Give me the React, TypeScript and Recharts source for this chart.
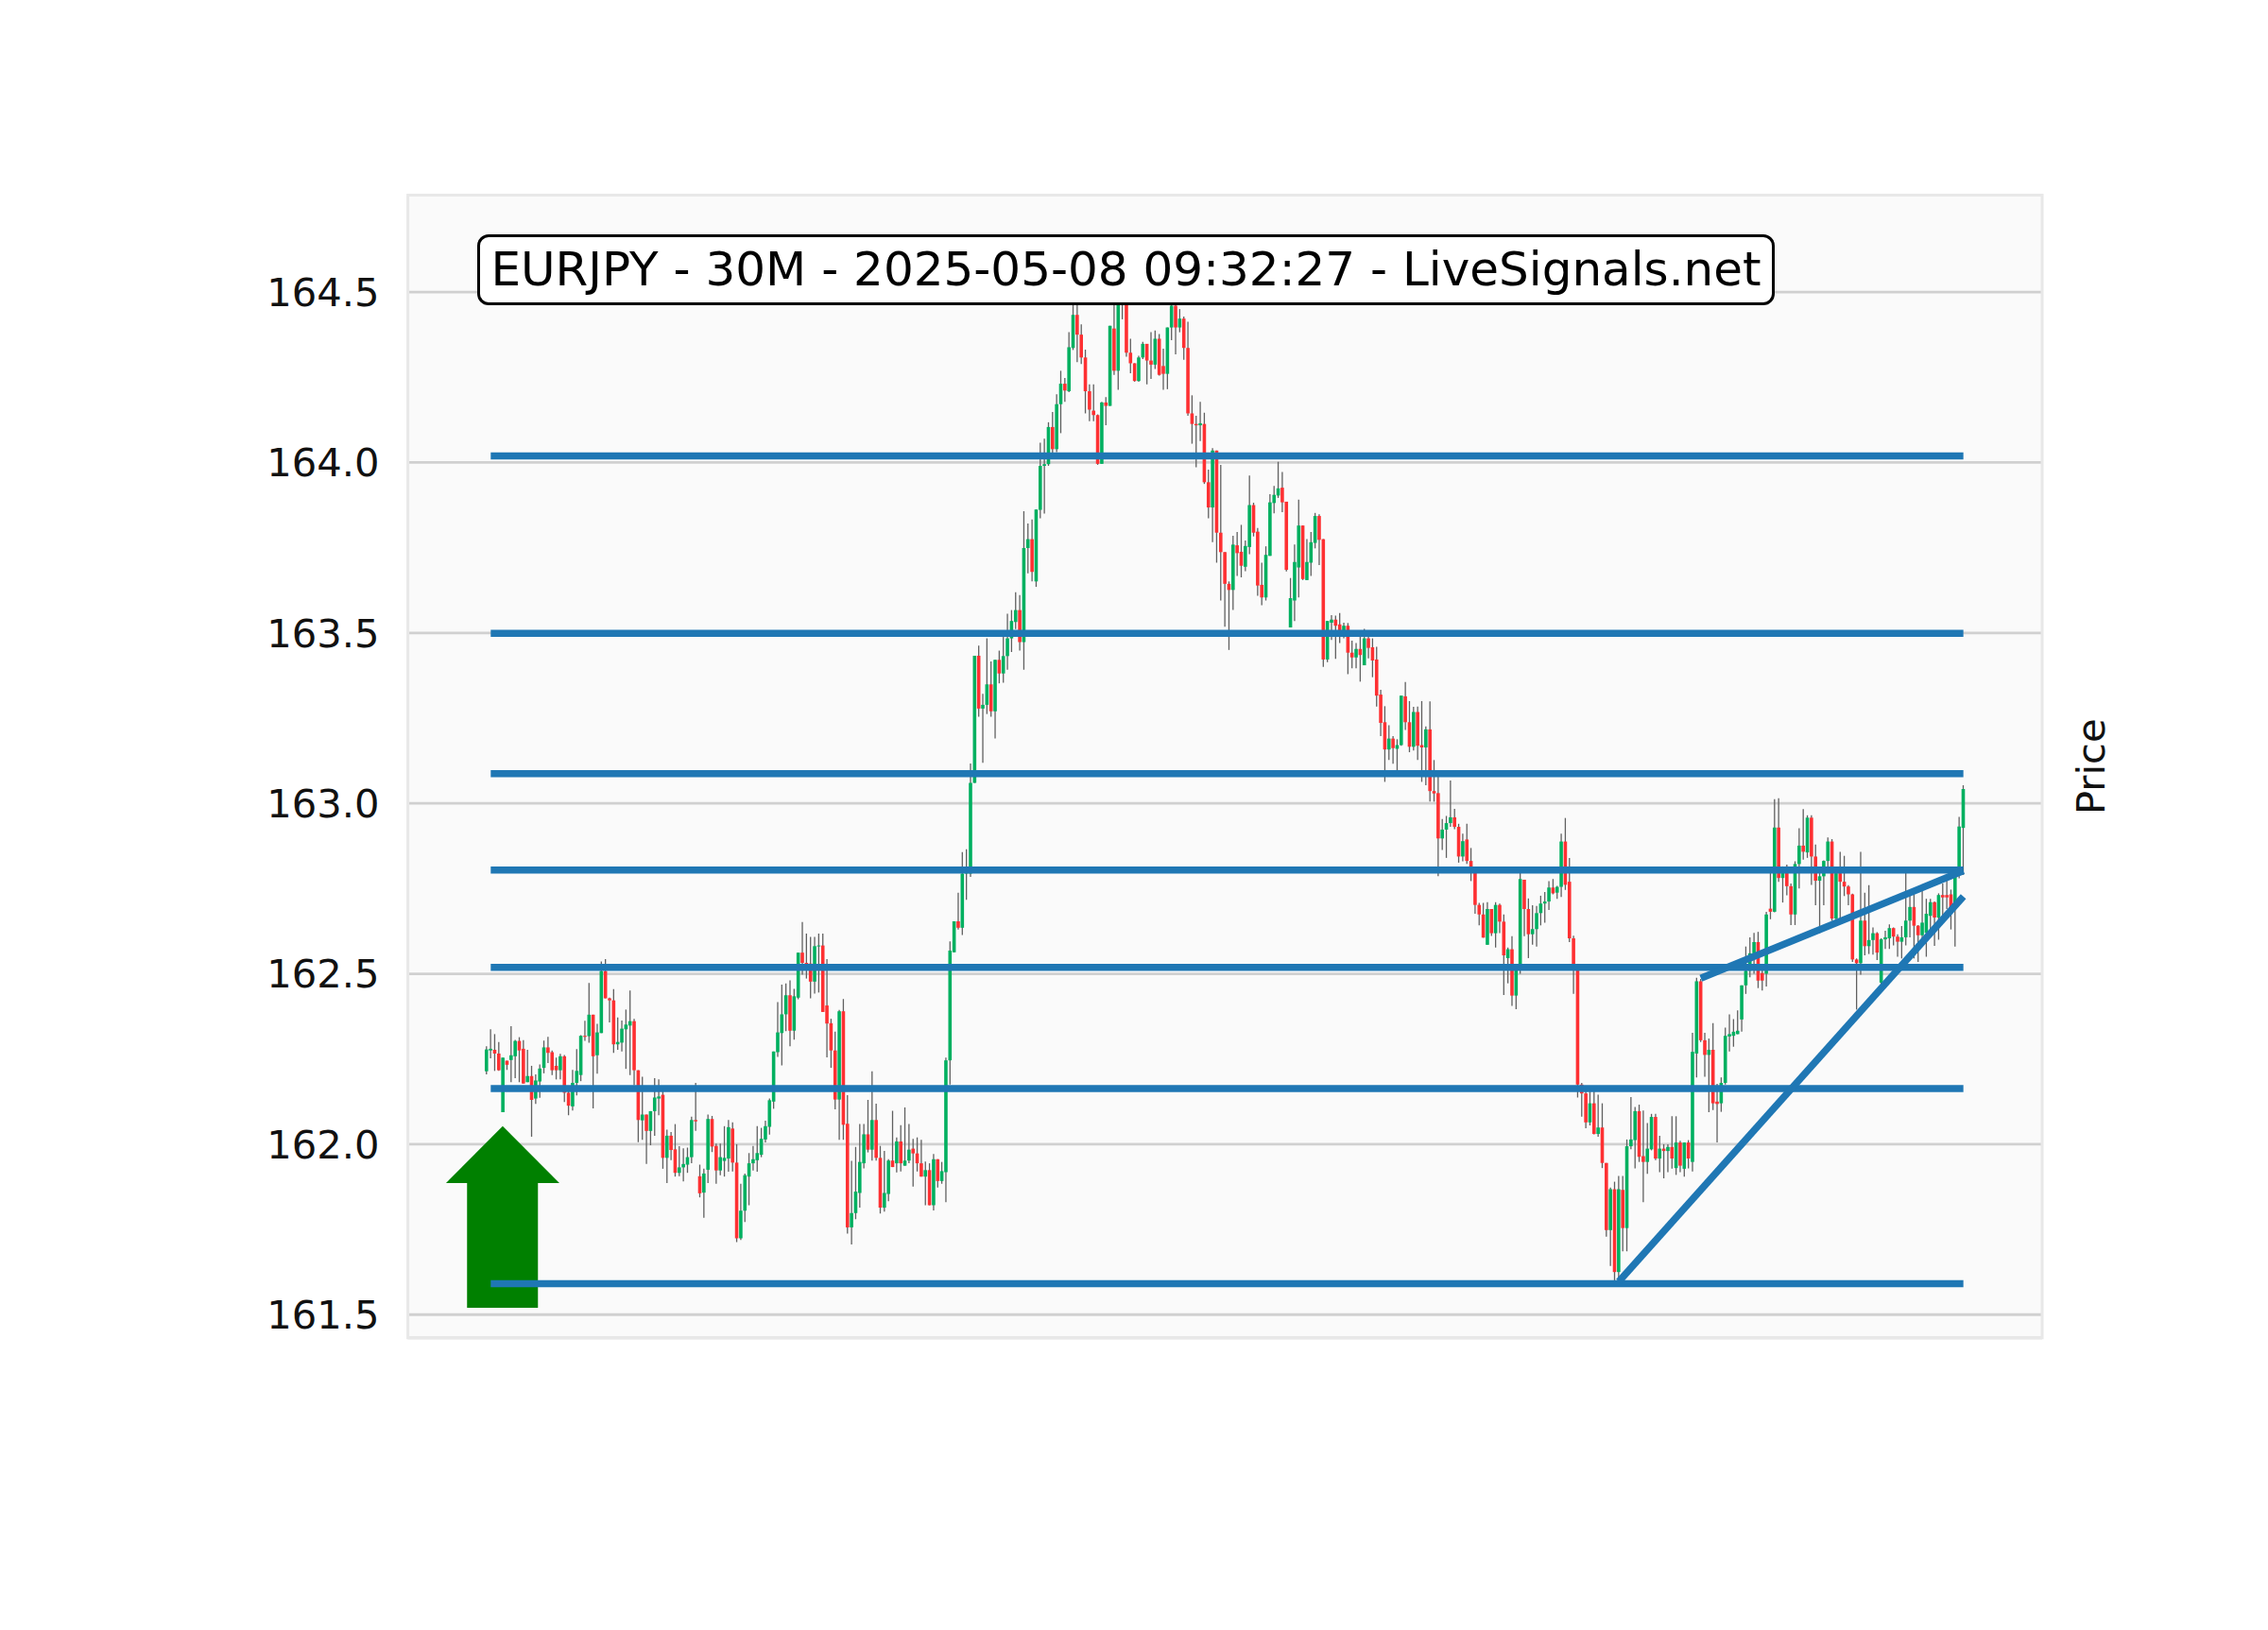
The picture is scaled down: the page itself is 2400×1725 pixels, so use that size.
import {
  ComposedChart,
  Bar,
  XAxis,
  YAxis,
  CartesianGrid,
  ReferenceLine,
  ReferenceArea,
} from "recharts";

type Ohlc = [number, number, number, number]; // open, high, low, close

const sessionOpen: Ohlc[] = [
  [162.214, 162.287, 162.205, 162.278], [162.275, 162.337, 162.252, 162.28], [162.277, 162.323, 162.215, 162.266],
  [162.266, 162.3, 162.215, 162.217], [162.094, 162.254, 162.094, 162.254], [162.245, 162.245, 162.218, 162.233],
  [162.247, 162.346, 162.182, 162.261], [162.258, 162.306, 162.194, 162.303], [162.303, 162.314, 162.182, 162.275],
  [162.28, 162.305, 162.178, 162.178], [162.182, 162.277, 162.182, 162.2], [162.2, 162.23, 162.022, 162.13],
  [162.134, 162.205, 162.118, 162.187], [162.184, 162.234, 162.136, 162.222], [162.224, 162.304, 162.208, 162.284],
  [162.284, 162.315, 162.238, 162.268], [162.27, 162.275, 162.203, 162.217], [162.23, 162.254, 162.19, 162.217],
  [162.217, 162.265, 162.19, 162.258], [162.258, 162.262, 162.124, 162.151], [162.151, 162.164, 162.085, 162.113],
  [162.111, 162.218, 162.099, 162.18], [162.18, 162.279, 162.143, 162.215], [162.203, 162.32, 162.185, 162.318],
  [162.318, 162.362, 162.303, 162.315], [162.317, 162.473, 162.298, 162.38], [162.38, 162.38, 162.105, 162.258],
  [162.261, 162.353, 162.207, 162.328], [162.326, 162.536, 162.326, 162.508], [162.508, 162.543, 162.428, 162.428],
  [162.428, 162.43, 162.357, 162.422], [162.422, 162.455, 162.268, 162.293], [162.293, 162.372, 162.277, 162.3],
  [162.298, 162.363, 162.272, 162.339], [162.337, 162.395, 162.221, 162.351], [162.348, 162.451, 162.203, 162.361],
  [162.361, 162.368, 162.173, 162.217], [162.217, 162.217, 162.006, 162.071], [162.07, 162.198, 162.013, 162.087],
  [162.087, 162.087, 161.942, 162.039], [162.039, 162.097, 161.997, 162.097], [162.097, 162.194, 162.025, 162.137],
  [162.134, 162.19, 162.085, 162.14], [162.145, 162.155, 161.928, 161.96], [161.96, 162.043, 161.886, 162.025],
  [162.025, 162.036, 161.953, 161.983], [161.985, 162.059, 161.905, 161.916], [161.916, 161.994, 161.906, 161.932],
  [161.932, 161.988, 161.891, 161.942], [161.94, 161.99, 161.916, 161.962], [161.962, 162.081, 161.944, 162.071],
  [162.071, 162.18, 162.039, 162.067],
];

const asiaDip: Ohlc[] = [
  [161.906, 161.94, 161.844, 161.856], [161.858, 161.928, 161.784, 161.914], [161.925, 162.087, 161.886, 162.074],
  [162.074, 162.083, 161.977, 161.993], [161.995, 162.002, 161.884, 161.923], [161.923, 162.002, 161.909, 161.962],
  [161.951, 162.053, 161.905, 161.96], [161.958, 162.071, 161.919, 162.05], [162.046, 162.064, 161.92, 161.946],
  [161.946, 162.0, 161.713, 161.724], [161.724, 161.884, 161.719, 161.805], [161.805, 161.914, 161.772, 161.909],
  [161.905, 161.974, 161.821, 161.944], [161.944, 161.995, 161.923, 161.956], [161.953, 162.053, 161.919, 161.974],
  [161.969, 162.048, 161.962, 162.016], [162.014, 162.069, 162.005, 162.053], [162.051, 162.134, 162.028, 162.129],
  [162.125, 162.272, 162.104, 162.272], [162.27, 162.417, 162.256, 162.328], [162.326, 162.468, 162.231, 162.381],
  [162.381, 162.472, 162.332, 162.437], [162.437, 162.481, 162.287, 162.333], [162.333, 162.456, 162.307, 162.434],
  [162.43, 162.562, 162.425, 162.562], [162.562, 162.652, 162.497, 162.532], [162.532, 162.618, 162.486, 162.53],
  [162.53, 162.608, 162.428, 162.477], [162.477, 162.608, 162.442, 162.581], [162.581, 162.618, 162.445, 162.583],
  [162.583, 162.618, 162.388, 162.388], [162.407, 162.543, 162.255, 162.354], [162.355, 162.368, 162.224, 162.275],
  [162.275, 162.33, 162.102, 162.131], [162.131, 162.394, 162.013, 162.39], [162.39, 162.426, 162.013, 162.057],
  [162.06, 162.144, 161.738, 161.756], [161.756, 161.951, 161.706, 161.798], [161.798, 161.992, 161.78, 161.861],
  [161.857, 162.059, 161.814, 161.948], [161.944, 162.059, 161.929, 162.029], [162.029, 162.13, 161.976, 161.984],
  [161.984, 162.214, 161.952, 162.071], [162.071, 162.119, 161.952, 161.96], [161.96, 161.995, 161.797, 161.814],
  [161.814, 161.98, 161.802, 161.857], [161.854, 161.956, 161.833, 161.952], [161.952, 162.098, 161.933, 161.933],
  [161.944, 162.02, 161.917, 162.008], [162.008, 162.056, 161.92, 161.944], [161.937, 162.108, 161.937, 161.952],
  [161.952, 162.059, 161.944, 161.984], [161.987, 162.016, 161.876, 161.973], [161.973, 162.02, 161.92, 161.944],
  [161.944, 162.013, 161.905, 161.905], [161.905, 161.949, 161.821, 161.924], [161.924, 161.944, 161.821, 161.821],
  [161.821, 161.971, 161.806, 161.956], [161.956, 161.956, 161.873, 161.892], [161.892, 161.948, 161.884, 161.921],
];

const breakout: Ohlc[] = [
  [161.918, 162.254, 161.83, 162.246], [162.246, 162.595, 162.175, 162.568], [162.563, 162.654, 162.563, 162.654],
  [162.654, 162.738, 162.63, 162.635], [162.635, 162.857, 162.614, 162.794], [162.794, 162.865, 162.717, 162.8],
  [162.794, 163.117, 162.784, 163.06], [163.06, 163.433, 163.06, 163.433], [163.433, 163.463, 163.254, 163.278],
  [163.278, 163.321, 163.119, 163.289], [163.289, 163.484, 163.262, 163.349], [163.349, 163.416, 163.254, 163.27],
  [163.27, 163.421, 163.19, 163.421], [163.421, 163.448, 163.352, 163.381], [163.381, 163.508, 163.354, 163.432],
  [163.432, 163.556, 163.392, 163.484], [163.484, 163.567, 163.444, 163.535], [163.532, 163.619, 163.511, 163.567],
  [163.567, 163.611, 163.448, 163.473], [163.473, 163.857, 163.392, 163.749], [163.749, 163.821, 163.675, 163.775],
  [163.775, 163.833, 163.651, 163.679], [163.651, 163.862, 163.635, 163.862], [163.861, 164.058, 163.836, 163.99],
  [163.99, 164.07, 163.85, 163.995], [163.995, 164.118, 163.99, 164.104], [164.104, 164.148, 164.025, 164.039],
  [164.039, 164.2, 164.03, 164.171], [164.171, 164.269, 164.086, 164.231], [164.231, 164.248, 164.178, 164.211],
  [164.209, 164.382, 164.206, 164.338], [164.336, 164.48, 164.33, 164.433], [164.433, 164.47, 164.294, 164.375],
  [164.375, 164.405, 164.289, 164.308], [164.308, 164.331, 164.144, 164.209], [164.209, 164.229, 164.121, 164.155],
  [164.152, 164.229, 164.121, 164.139], [164.139, 164.141, 163.993, 163.996], [163.996, 164.178, 163.996, 164.176],
  [164.176, 164.192, 164.109, 164.166], [164.166, 164.401, 164.166, 164.401],
];

const topRange: Ohlc[] = [
  [164.393, 164.5, 164.257, 164.269], [164.269, 164.52, 164.213, 164.47], [164.47, 164.55, 164.42, 164.5],
  [164.5, 164.56, 164.31, 164.322], [164.322, 164.363, 164.262, 164.291], [164.291, 164.291, 164.237, 164.239],
  [164.239, 164.313, 164.237, 164.308], [164.308, 164.354, 164.303, 164.348], [164.348, 164.348, 164.229, 164.299],
  [164.299, 164.382, 164.245, 164.287], [164.287, 164.387, 164.274, 164.363], [164.363, 164.377, 164.255, 164.257],
  [164.283, 164.334, 164.213, 164.26], [164.26, 164.396, 164.215, 164.396], [164.396, 164.52, 164.359, 164.46],
  [164.46, 164.53, 164.317, 164.396], [164.396, 164.45, 164.382, 164.422], [164.422, 164.428, 164.301, 164.336],
  [164.336, 164.413, 164.137, 164.144], [164.144, 164.197, 164.055, 164.113], [164.113, 164.137, 163.986, 164.109],
  [164.109, 164.178, 164.063, 164.115], [164.113, 164.146, 163.937, 163.942], [163.942, 163.979, 163.836, 163.868],
  [163.868, 164.042, 163.766, 164.035], [164.035, 164.035, 163.706, 163.794], [163.794, 163.993, 163.595, 163.737],
  [163.737, 163.737, 163.518, 163.644], [163.644, 163.651, 163.45, 163.626], [163.626, 163.785, 163.567, 163.759],
  [163.757, 163.796, 163.667, 163.734], [163.738, 163.817, 163.663, 163.697], [163.694, 163.771, 163.681, 163.755],
  [163.752, 163.962, 163.731, 163.875], [163.875, 163.882, 163.783, 163.794], [163.797, 163.808, 163.609, 163.639],
  [163.641, 163.706, 163.581, 163.604], [163.604, 163.754, 163.595, 163.729], [163.726, 163.907, 163.726, 163.883],
  [163.881, 163.931, 163.851, 163.905], [163.903, 164.002, 163.896, 163.924], [163.926, 163.972, 163.854, 163.883],
  [163.885, 163.885, 163.68, 163.685],
];

const slide: Ohlc[] = [
  [163.516, 163.661, 163.516, 163.602], [163.595, 163.759, 163.535, 163.708], [163.692, 163.891, 163.604, 163.815],
  [163.815, 163.815, 163.655, 163.658], [163.655, 163.775, 163.655, 163.708], [163.706, 163.796, 163.667, 163.766],
  [163.764, 163.852, 163.748, 163.843], [163.843, 163.848, 163.699, 163.773], [163.775, 163.775, 163.4, 163.422],
  [163.422, 163.535, 163.414, 163.535], [163.53, 163.552, 163.479, 163.539], [163.539, 163.551, 163.424, 163.521],
  [163.525, 163.558, 163.47, 163.507], [163.507, 163.53, 163.484, 163.521], [163.521, 163.529, 163.379, 163.442],
  [163.442, 163.477, 163.396, 163.428], [163.428, 163.47, 163.396, 163.453], [163.453, 163.489, 163.357, 163.435],
  [163.405, 163.512, 163.405, 163.484], [163.484, 163.493, 163.425, 163.456], [163.458, 163.484, 163.37, 163.419],
  [163.422, 163.459, 163.284, 163.316], [163.319, 163.333, 163.197, 163.236], [163.238, 163.285, 163.063, 163.158],
  [163.158, 163.229, 163.127, 163.19], [163.19, 163.197, 163.116, 163.162], [163.16, 163.188, 163.095, 163.171],
  [163.171, 163.316, 163.169, 163.316], [163.314, 163.356, 163.215, 163.238], [163.238, 163.3, 163.15, 163.166],
  [163.166, 163.283, 163.155, 163.268], [163.268, 163.284, 163.127, 163.169], [163.171, 163.3, 163.063, 163.164],
  [163.164, 163.226, 163.053, 163.217], [163.217, 163.299, 163.005, 163.036], [163.036, 163.127, 163.005, 163.029],
  [163.03, 163.084, 162.786, 162.897], [162.897, 162.954, 162.863, 162.923], [162.923, 162.963, 162.84, 162.942],
  [162.942, 163.067, 162.931, 162.959], [162.959, 162.984, 162.924, 162.931], [162.931, 162.94, 162.826, 162.844],
  [162.844, 162.911, 162.83, 162.889], [162.894, 162.94, 162.822, 162.831], [162.831, 162.869, 162.772, 162.804],
  [162.804, 162.81, 162.676, 162.702], [162.702, 162.708, 162.642, 162.674], [162.674, 162.708, 162.606, 162.606],
  [162.585, 162.71, 162.585, 162.69], [162.69, 162.69, 162.611, 162.619], [162.619, 162.71, 162.577, 162.702],
  [162.702, 162.706, 162.619, 162.653], [162.653, 162.674, 162.438, 162.554], [162.546, 162.577, 162.472, 162.572],
  [162.572, 162.61, 162.406, 162.436], [162.436, 162.526, 162.396, 162.526], [162.526, 162.795, 162.5, 162.778],
  [162.776, 162.776, 162.61, 162.69], [162.69, 162.721, 162.546, 162.616], [162.616, 162.701, 162.585, 162.631],
  [162.631, 162.699, 162.58, 162.678], [162.678, 162.729, 162.642, 162.706], [162.706, 162.74, 162.65, 162.712],
  [162.712, 162.772, 162.687, 162.753], [162.753, 162.778, 162.733, 162.736], [162.738, 162.758, 162.72, 162.755],
  [162.755, 162.911, 162.725, 162.888], [162.888, 162.957, 162.746, 162.761], [162.77, 162.84, 162.593, 162.604],
  [162.604, 162.612, 162.441, 162.523], [162.523, 162.523, 162.137, 162.175], [162.175, 162.18, 162.081, 162.149],
  [162.149, 162.17, 162.047, 162.064], [162.064, 162.16, 162.055, 162.12], [162.12, 162.16, 162.029, 162.03],
  [162.03, 162.145, 162.022, 162.049], [162.049, 162.12, 161.93, 161.945], [161.945, 161.945, 161.729, 161.748],
  [161.748, 161.873, 161.643, 161.868], [161.868, 161.89, 161.6, 161.625],
];

const rebound: Ohlc[] = [
  [161.625, 161.907, 161.6, 161.868], [161.866, 161.907, 161.686, 161.754], [161.754, 162.014, 161.686, 161.994],
  [161.994, 162.138, 161.985, 162.014], [162.012, 162.109, 161.929, 162.097], [162.097, 162.116, 161.948, 161.963],
  [161.965, 162.099, 161.83, 161.948], [161.948, 162.062, 161.913, 161.987], [161.985, 162.089, 161.982, 162.08],
  [162.08, 162.089, 161.953, 161.958], [161.958, 162.025, 161.918, 161.987], [161.987, 162.0, 161.9, 161.98],
  [161.98, 162.0, 161.918, 161.992], [161.992, 162.082, 161.928, 161.958], [161.93, 162.082, 161.91, 162.005],
  [162.005, 162.01, 161.918, 161.937], [161.928, 162.005, 161.905, 162.005], [162.005, 162.012, 161.929, 161.958],
  [161.948, 162.327, 161.92, 162.271], [162.266, 162.488, 162.196, 162.478], [162.478, 162.485, 162.3, 162.305],
  [162.305, 162.327, 162.198, 162.262], [162.262, 162.31, 162.094, 162.277], [162.277, 162.355, 162.1, 162.12],
  [162.125, 162.177, 162.005, 162.118], [162.12, 162.196, 162.095, 162.18], [162.18, 162.342, 162.175, 162.318],
  [162.316, 162.381, 162.272, 162.323], [162.318, 162.367, 162.286, 162.33], [162.323, 162.393, 162.323, 162.333],
  [162.366, 162.466, 162.33, 162.466], [162.466, 162.58, 162.441, 162.509], [162.509, 162.607, 162.49, 162.56],
  [162.56, 162.62, 162.5, 162.593], [162.593, 162.623, 162.458, 162.48], [162.502, 162.52, 162.451, 162.48],
  [162.5, 162.682, 162.463, 162.674], [162.691, 162.798, 162.66, 162.682], [162.682, 163.012, 162.68, 162.929],
  [162.929, 163.015, 162.77, 162.781], [162.781, 162.815, 162.709, 162.798], [162.815, 162.82, 162.73, 162.757],
  [162.757, 162.765, 162.643, 162.674], [162.674, 162.83, 162.643, 162.822], [162.822, 162.927, 162.75, 162.876],
  [162.876, 162.983, 162.835, 162.858], [162.856, 162.965, 162.84, 162.958], [162.958, 162.965, 162.761, 162.844],
  [162.844, 162.879, 162.701, 162.773], [162.773, 162.8, 162.619, 162.786], [162.786, 162.833, 162.701, 162.831],
  [162.831, 162.9, 162.81, 162.888], [162.888, 162.895, 162.655, 162.662], [162.662, 162.81, 162.655, 162.795],
  [162.795, 162.858, 162.655, 162.77], [162.77, 162.846, 162.728, 162.756], [162.756, 162.76, 162.701, 162.733],
  [162.733, 162.735, 162.535, 162.542], [162.542, 162.545, 162.395, 162.531], [162.531, 162.858, 162.497, 162.656],
  [162.656, 162.738, 162.554, 162.581], [162.581, 162.76, 162.558, 162.599], [162.599, 162.636, 162.556, 162.619],
  [162.619, 162.622, 162.54, 162.562], [162.474, 162.604, 162.46, 162.601], [162.601, 162.626, 162.573, 162.607],
  [162.604, 162.645, 162.573, 162.634], [162.634, 162.636, 162.583, 162.609], [162.609, 162.616, 162.55, 162.594],
  [162.594, 162.64, 162.545, 162.607], [162.607, 162.815, 162.583, 162.656], [162.656, 162.738, 162.607, 162.696],
  [162.696, 162.734, 162.545, 162.641], [162.641, 162.643, 162.535, 162.613], [162.613, 162.76, 162.6, 162.65],
  [162.62, 162.72, 162.55, 162.676], [162.67, 162.72, 162.63, 162.71], [162.71, 162.712, 162.582, 162.665],
  [162.665, 162.736, 162.6, 162.731], [162.731, 162.765, 162.66, 162.724], [162.731, 162.78, 162.69, 162.724],
  [162.733, 162.747, 162.63, 162.69], [162.69, 162.795, 162.58, 162.793], [162.793, 162.96, 162.78, 162.932],
  [162.928, 163.053, 162.79, 163.042],
];

// support / resistance levels drawn across the whole session
const levels = [164.019, 163.499, 163.087, 162.804, 162.519, 162.163, 161.591];
// trend lines: [startBar, startPrice, endBar, endPrice]
const trendLines: [number, number, number, number][] = [
  [277, 161.597, 361, 162.727],
  [297, 162.487, 361, 162.802],
];
const yTicks = [161.5, 162.0, 162.5, 163.0, 163.5, 164.0, 164.5];
const title = "EURJPY - 30M - 2025-05-08 09:32:27 - LiveSignals.net";

const bars = [...sessionOpen, ...asiaDip, ...breakout, ...topRange, ...slide, ...rebound];
const data = bars.map((b, idx) => ({
  i: idx + 1,
  o: b[0],
  h: b[1],
  l: b[2],
  c: b[3],
  range: [b[2], b[1]],
}));
const lastBar = data.length;

const FONT = "DejaVu Sans";
const UP = "#00b060";
const DOWN = "#fe3032";
const WICK = "#606060";
const LINE = "#1f77b4";

function Candle(props: any) {
  const { x, y, width, height, payload } = props;
  if (!payload || height == null) return null;
  const { o, h, l, c } = payload;
  const top = Math.min(y, y + height);
  const span = Math.abs(height);
  const toY = (p: number) => top + ((h - p) / (h - l || 1)) * span;
  const cx = x + width / 2;
  const bTop = toY(Math.max(o, c));
  const bBot = toY(Math.min(o, c));
  const bw = 3.6;
  return (
    <g>
      <line x1={cx} x2={cx} y1={top} y2={top + span} stroke={WICK} strokeWidth={1.3} />
      <rect
        x={cx - bw / 2}
        y={bTop}
        width={bw}
        height={Math.max(bBot - bTop, 1)}
        fill={c >= o ? UP : DOWN}
      />
    </g>
  );
}

function ArrowHead(props: any) {
  const { x, y, width, height } = props;
  return (
    <polygon
      points={`${x},${y + height} ${x + width},${y + height} ${x + width / 2},${y}`}
      fill="#008000"
    />
  );
}

export default function App() {
  return (
    <div
      style={{
        position: "absolute",
        left: 0,
        top: 0,
        width: 2400,
        height: 1725,
        background: "#ffffff",
      }}
    >
      <ComposedChart
        width={2400}
        height={1725}
        data={data}
        margin={{ top: 206.6, right: 136, bottom: 309.2, left: 331.6 }}
      >
        <CartesianGrid
          yAxisId="left"
          vertical={false}
          stroke="#d0d0d0"
          strokeWidth={2.8}
          fill="#fafafa"
          fillOpacity={1}
        />
        <XAxis dataKey="i" type="number" domain={[-18.2, 380.2]} allowDataOverflow hide />
        <YAxis
          yAxisId="left"
          orientation="left"
          domain={[161.432, 164.784]}
          allowDataOverflow
          ticks={yTicks}
          interval={0}
          width={100}
          axisLine={false}
          tickLine={false}
          tickSize={0}
          tickMargin={30}
          tickFormatter={(v: number) => v.toFixed(1)}
          tick={{ fill: "#111111", fontSize: 41.7, fontFamily: FONT }}
        />
        <YAxis
          yAxisId="right"
          orientation="right"
          domain={[161.432, 164.784]}
          allowDataOverflow
          ticks={yTicks}
          interval={0}
          width={103}
          axisLine={false}
          tickSize={14.6}
          tickLine={{ stroke: "#000000", strokeWidth: 3 }}
          tick={false}
          label={{
            value: "Price",
            angle: -90,
            position: "center",
            fill: "#111111",
            fontSize: 41.7,
            fontFamily: FONT,
          }}
        />
        <ReferenceArea
          yAxisId="left"
          x1={-18.2}
          x2={380.2}
          y1={161.432}
          y2={164.784}
          fill="none"
          stroke="#e8e8e8"
          strokeWidth={3}
          ifOverflow="visible"
        />
        <Bar
          yAxisId="left"
          dataKey="range"
          barSize={4}
          shape={<Candle />}
          isAnimationActive={false}
        />
        {levels.map((lv) => (
          <ReferenceLine
            key={lv}
            yAxisId="left"
            segment={[
              { x: 2, y: lv },
              { x: lastBar, y: lv },
            ]}
            stroke={LINE}
            strokeWidth={7.5}
            ifOverflow="visible"
          />
        ))}
        {trendLines.map((t) => (
          <ReferenceLine
            key={t.join("-")}
            yAxisId="left"
            segment={[
              { x: t[0], y: t[1] },
              { x: t[2], y: t[3] },
            ]}
            stroke={LINE}
            strokeWidth={7.5}
            ifOverflow="visible"
          />
        ))}
        {/* buy signal arrow */}
        <ReferenceArea
          yAxisId="left"
          x1={-3.77}
          x2={13.51}
          y1={161.52}
          y2={161.886}
          fill="#008000"
          fillOpacity={1}
          ifOverflow="visible"
        />
        <ReferenceArea
          yAxisId="left"
          x1={-8.91}
          x2={18.74}
          y1={161.886}
          y2={162.053}
          shape={<ArrowHead />}
          ifOverflow="visible"
        />
      </ComposedChart>

      <div
        style={{
          position: "absolute",
          left: 505,
          top: 248,
          width: 1373,
          height: 75,
          boxSizing: "border-box",
          border: "3.5px solid #000000",
          borderRadius: 12,
          background: "#ffffff",
          fontFamily: FONT,
          fontSize: 50,
          lineHeight: "68px",
          textAlign: "center",
          whiteSpace: "nowrap",
          color: "#000000",
        }}
      >
        {title}
      </div>
    </div>
  );
}
